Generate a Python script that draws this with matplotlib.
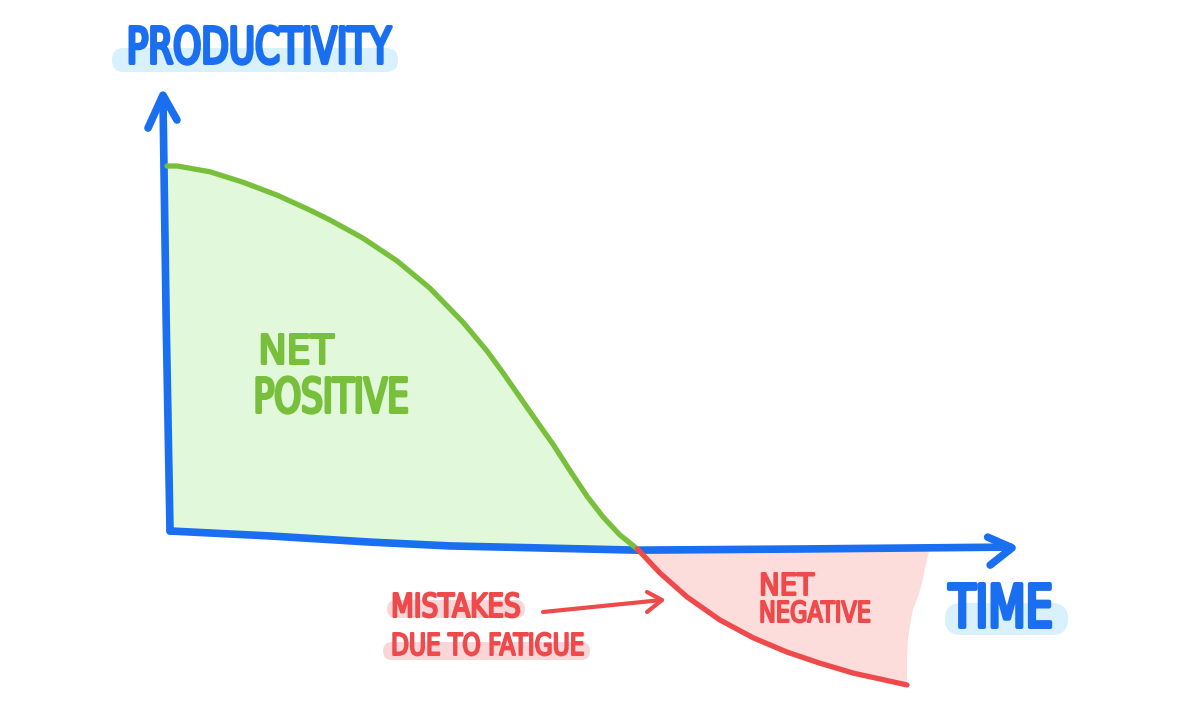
import matplotlib
matplotlib.use("Agg")
import matplotlib.pyplot as plt
from matplotlib.patches import FancyBboxPatch
from matplotlib.patheffects import AbstractPathEffect
from matplotlib.transforms import Affine2D
import numpy as np

# productivity over time (1.0 = productivity at the start)
time = [0.00, 0.12, 0.51, 0.90, 1.31, 1.70, 1.94, 2.33, 2.74, 3.13, 3.52,
        3.81, 4.00, 4.20, 4.40, 4.60, 4.80, 5.00, 5.19, 5.39, 5.60,
        5.87, 6.19, 6.58, 6.98, 7.38, 7.77, 8.17, 8.81]
productivity = [1.00, 1.00, 0.985, 0.958, 0.924, 0.885, 0.859, 0.812, 0.752,
                0.681, 0.593, 0.517, 0.460, 0.397, 0.334, 0.272, 0.204,
                0.138, 0.084, 0.037, 0.0,
                -0.063, -0.125, -0.185, -0.232, -0.269, -0.298, -0.324, -0.355]
# torn right edge of the "net negative" shading (bottom to top)
edge_time = [8.81, 8.81, 8.82, 8.85, 8.88, 8.94, 8.99, 9.02, 9.06, 9.08]
edge_prod = [-0.342, -0.290, -0.237, -0.193, -0.159, -0.125, -0.089, -0.055, -0.016, 0.0]
# hand drawn axes
xaxis_t = [0.036, 1.23, 2.42, 3.37, 5.60, 7.54, 10.04]
xaxis_p = [0.047, 0.034, 0.018, 0.008, -0.003, 0.0, 0.005]
yaxis_t = [0.036, -0.01, -0.048]
yaxis_p = [0.047, 0.60, 1.18]

BLUE = "#1a6ff0"
GREEN = "#78c03c"
GREEN_FILL = "#e1f9da"
RED = "#ee4a4c"
RED_FILL = "#fddcdc"
HL_BLUE = "#d9f1fd"
HL_RED = "#fbd6d8"

plt.rcParams['font.family'] = ['DejaVu Sans']


class Marker(AbstractPathEffect):
    """squeeze glyphs horizontally and trace them with a round felt pen"""
    def __init__(self, sx, lw):
        super().__init__()
        self.squeeze = Affine2D().scale(sx, 1.0)
        self.lw = lw

    def draw_path(self, renderer, gc, tpath, affine, rgbFace=None):
        gc0 = renderer.new_gc()
        gc0.copy_properties(gc)
        gc0.set_linewidth(self.lw)
        gc0.set_joinstyle('round')
        gc0.set_capstyle('round')
        gc0.set_foreground(rgbFace)
        renderer.draw_path(gc0, tpath, self.squeeze + affine, rgbFace)
        gc0.restore()


t = np.array(time)
p = np.array(productivity)
pos = p >= 0
neg = p <= 0

fig = plt.figure(figsize=(12, 7.12), dpi=100)
ax = fig.add_axes([0, 0, 1, 1])
ax.set_xlim(-1.988, 12.298)
ax.set_ylim(-0.4256, 1.4334)
ax.axis('off')

# annotation layer in pixel units of the sketch
ann = fig.add_axes([0, 0, 1, 1])
ann.set_xlim(0, 1200)
ann.set_ylim(712, 0)
ann.axis('off')
ann.patch.set_alpha(0)

# shaded areas
ax_t = np.array(xaxis_t)
ax_p = np.array(xaxis_p)
left = ax_t <= 5.6
ax.fill(np.concatenate([t[pos], ax_t[left][::-1]]),
        np.concatenate([p[pos], ax_p[left][::-1]]),
        color=GREEN_FILL, lw=0, zorder=1)
ax.fill(np.concatenate([t[neg], edge_time]),
        np.concatenate([p[neg], edge_prod]),
        color=RED_FILL, lw=0, zorder=1)

# axes with arrow heads
kw = dict(color=BLUE, lw=5.5, solid_capstyle='round', solid_joinstyle='round', zorder=3)
ax.plot(xaxis_t, xaxis_p, **kw)
ax.plot(yaxis_t, yaxis_p, **kw)
ax.plot([9.77, 10.06, 9.80], [0.031, 0.003, -0.042], **kw)
ax.plot([-0.226, -0.048, 0.119], [1.099, 1.185, 1.12], **kw)

# productivity curve
ax.plot(t[pos], p[pos], color=GREEN, lw=3.8, solid_capstyle='round',
        solid_joinstyle='round', zorder=4)
ax.plot(t[neg], p[neg], color=RED, lw=3.8, solid_capstyle='round',
        solid_joinstyle='round', zorder=4)


def highlight(x0, x1, y0, y1, color):
    h = y1 - y0
    ann.add_patch(FancyBboxPatch((x0, y0), x1 - x0, h,
                                 boxstyle="round,pad=0,rounding_size=%g" % (h / 2),
                                 fc=color, ec='none', zorder=2))


highlight(112, 398, 48, 72, HL_BLUE)
highlight(945, 1068, 603, 635, HL_BLUE)
highlight(387, 525, 600, 618, HL_RED)
highlight(383, 590, 642, 660, HL_RED)

renderer = fig.canvas.get_renderer()


def label(x, baseline, s, color, cap, width):
    pen = cap * 0.085                      # pen width in pixels
    fs = (cap - pen) / 0.729 * 72 / 100
    txt = ann.text(x + pen / 2, baseline - pen / 2, s, color=color, fontsize=fs,
                   ha='left', va='baseline', zorder=5)
    w = txt.get_window_extent(renderer).width
    txt.set_path_effects([Marker((width - pen) / w, pen * 0.72)])


label(125, 65, "PRODUCTIVITY", BLUE, 40, 268)
label(947, 629, "TIME", BLUE, 47, 108)
label(257, 365, "NET", GREEN, 32, 78)
label(252, 414, "POSITIVE", GREEN, 38, 158)
label(758, 596, "NET", RED, 24, 57)
label(758, 623, "NEGATIVE", RED, 23, 114)
label(390, 618, "MISTAKES", RED, 26, 132)
label(390, 656, "DUE TO FATIGUE", RED, 24, 196)

# arrow pointing at the mistakes part of the curve
akw = dict(color=RED, lw=3, solid_capstyle='round', solid_joinstyle='round', zorder=4)
ann.plot([543, 662], [612, 600], **akw)
ann.plot([647, 662, 647], [592, 600, 612], **akw)

fig.savefig("out.png", dpi=100)
